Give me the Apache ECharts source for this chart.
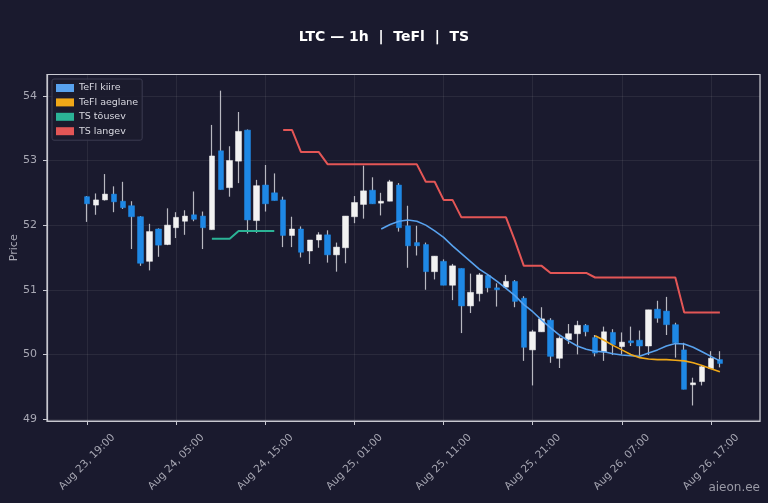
<!DOCTYPE html>
<html>
<head>
<meta charset="utf-8">
<script src="https://cdn.jsdelivr.net/npm/echarts@6/dist/echarts.min.js"></script>
<style>
  html, body { margin: 0; padding: 0; background: #1a1a2e; }
  #chart { width: 768px; height: 503px; }
</style>
</head>
<body>
<div id="chart"></div>
<script>
// hourly candles, Aug 23 19:00 -> Aug 26 18:00
const tickLabels = ['Aug 23, 19:00', 'Aug 24, 05:00', 'Aug 24, 15:00', 'Aug 25, 01:00',
    'Aug 25, 11:00', 'Aug 25, 21:00', 'Aug 26, 07:00', 'Aug 26, 17:00'];

const opens = [52.44, 52.31, 52.39, 52.48, 52.37, 52.30, 52.13, 51.44, 51.94, 51.70,
    51.96, 52.06, 52.16, 52.14, 51.93, 53.15, 52.58, 52.99, 53.47, 52.07,
    52.62, 52.50, 52.39, 51.84, 51.94, 51.60, 51.77, 51.85, 51.54, 51.65,
    52.13, 52.32, 52.54, 52.34, 52.37, 52.62, 51.99, 51.73, 51.70, 51.28,
    51.44, 51.07, 51.33, 50.75, 50.94, 51.22, 51.03, 51.04, 51.13, 50.87,
    50.07, 50.35, 50.53, 49.94, 50.23, 50.32, 50.45, 50.26, 50.04, 50.34,
    50.12, 50.21, 50.22, 50.13, 50.70, 50.67, 50.46, 50.07, 49.53, 49.58,
    49.78, 49.92];
const closes = [52.33, 52.39, 52.48, 52.36, 52.27, 52.13, 51.41, 51.90, 51.69, 52.00,
    52.12, 52.14, 52.09, 51.96, 53.07, 52.55, 53.00, 53.45, 52.08, 52.61,
    52.33, 52.38, 51.84, 51.94, 51.58, 51.77, 51.85, 51.54, 51.66, 52.14,
    52.35, 52.53, 52.33, 52.37, 52.67, 51.96, 51.68, 51.68, 51.28, 51.52,
    51.07, 51.37, 50.75, 50.96, 51.23, 51.03, 51.00, 51.13, 50.82, 50.11,
    50.35, 50.55, 49.97, 50.25, 50.32, 50.45, 50.35, 50.02, 50.35, 50.15,
    50.19, 50.18, 50.13, 50.69, 50.56, 50.46, 50.18, 49.46, 49.56, 49.81,
    49.94, 49.86];
const lows = [52.05, 52.16, 52.38, 52.20, 52.25, 51.63, 51.37, 51.30, 51.51, 51.69,
    51.80, 51.85, 52.06, 51.63, 51.93, 52.55, 52.44, 52.65, 51.87, 51.88,
    52.21, 52.38, 51.66, 51.66, 51.50, 51.40, 51.65, 51.42, 51.28, 51.41,
    52.03, 52.10, 52.33, 52.15, 52.37, 51.90, 51.34, 51.53, 51.00, 51.16,
    51.07, 50.84, 50.33, 50.64, 50.82, 50.96, 50.74, 51.04, 50.73, 49.90,
    49.52, 50.35, 49.87, 49.79, 50.16, 50.00, 50.28, 49.97, 49.90, 49.99,
    50.00, 50.13, 49.98, 49.99, 50.49, 50.30, 49.95, 49.46, 49.21, 49.52,
    49.78, 49.80];
const highs = [52.45, 52.49, 52.79, 52.60, 52.67, 52.37, 52.14, 52.02, 51.95, 52.26,
    52.20, 52.23, 52.52, 52.21, 53.55, 54.08, 53.22, 53.75, 53.48, 52.70,
    52.93, 52.80, 52.44, 52.13, 51.98, 51.77, 51.89, 51.92, 51.73, 52.14,
    52.45, 52.92, 52.74, 52.50, 52.70, 52.65, 52.30, 51.99, 51.73, 51.52,
    51.47, 51.40, 51.33, 51.25, 51.26, 51.23, 51.10, 51.23, 51.15, 50.90,
    50.38, 50.73, 50.56, 50.28, 50.47, 50.52, 50.47, 50.30, 50.43, 50.39,
    50.34, 50.43, 50.37, 50.69, 50.83, 50.89, 50.49, 50.18, 49.64, 49.83,
    50.05, 50.05];

// indicator lines, [first candle index, values...]
const tsUpStart = 14;
const tsUp = [51.79, 51.79, 51.79, 51.91, 51.91, 51.91, 51.91, 51.91];
const tsDownStart = 22;
const tsDown = [53.47, 53.47, 53.13, 53.13, 53.13, 52.94, 52.94, 52.94, 52.94, 52.94,
    52.94, 52.94, 52.94, 52.94, 52.94, 52.94, 52.67, 52.67, 52.39, 52.39,
    52.12, 52.12, 52.12, 52.12, 52.12, 52.12, 51.76, 51.37, 51.37, 51.37,
    51.26, 51.26, 51.26, 51.26, 51.26, 51.19, 51.19, 51.19, 51.19, 51.19,
    51.19, 51.19, 51.19, 51.19, 51.19, 50.65, 50.65, 50.65, 50.65, 50.65];
const fastStart = 33;
const fast = [51.94, 52.01, 52.06, 52.08, 52.06, 52.00, 51.91, 51.81, 51.68, 51.56,
    51.44, 51.32, 51.23, 51.13, 51.02, 50.91, 50.77, 50.66, 50.53, 50.41,
    50.30, 50.21, 50.13, 50.08, 50.05, 50.04, 50.01, 49.99, 49.98, 49.97,
    50.02, 50.07, 50.13, 50.17, 50.16, 50.11, 50.04, 49.97, 49.90];
const slowStart = 57;
const slow = [50.29, 50.22, 50.14, 50.07, 50.00, 49.95, 49.93, 49.92, 49.92, 49.91,
    49.90, 49.87, 49.83, 49.78, 49.73];

const toPoints = (start, vals) => vals.map((v, k) => [start + k, v]);

const wickData = opens.map((o, i) => [i, o, closes[i], lows[i], highs[i]]);
const bodyData = opens.map((o, i) => [i, o, closes[i], Math.min(o, closes[i]), Math.max(o, closes[i])]);

const axisColor = '#c8c8d0';
const textColor = '#a8a8b4';
const gridColor = 'rgba(255,255,255,0.07)';
const font = 'DejaVu Sans';

const chart = echarts.init(document.getElementById('chart'));
const option = {
    backgroundColor: '#1a1a2e',
    animation: false,
    textStyle: { fontFamily: font },
    title: {
        text: 'LTC — 1h  |  TeFl  |  TS',
        left: 'center',
        top: 25,
        textStyle: { color: '#ffffff', fontSize: 14, fontWeight: 'bold', fontFamily: font }
    },
    legend: {
        data: ['TeFl kiire', 'TeFl aeglane', 'TS tõusev', 'TS langev'],
        orient: 'vertical',
        left: 52,
        top: 79,
        padding: [4, 4, 4, 4],
        itemGap: 4.4,
        itemWidth: 18,
        itemHeight: 8,
        icon: 'rect',
        backgroundColor: 'rgba(28,28,46,0.9)',
        borderColor: '#3c3c52',
        borderWidth: 1,
        borderRadius: 2,
        textStyle: { color: '#d8d8e0', fontSize: 9.5, fontFamily: font }
    },
    grid: {
        left: 47,
        right: 8,
        top: 74.5,
        bottom: 82,
        containLabel: false,
        outerBoundsMode: 'none',
        show: true,
        borderColor: axisColor,
        borderWidth: 1.2,
        backgroundColor: '#1a1a2e'
    },
    xAxis: {
        type: 'value',
        min: -4.5,
        max: 75.5,
        splitNumber: 8,
        axisLine: { show: true, onZero: false, lineStyle: { color: axisColor, width: 1.2 } },
        axisTick: { show: true, length: 4, lineStyle: { color: axisColor } },
        splitLine: { show: true, lineStyle: { color: gridColor, width: 1 } },
        axisLabel: {
            showMinLabel: false,
            showMaxLabel: false,
            rotate: 45,
            align: 'center',
            verticalAlign: 'middle',
            margin: 41,
            color: textColor,
            fontSize: 10.5,
            fontFamily: font,
            formatter: v => tickLabels[Math.round(v / 10)] || ''
        }
    },
    yAxis: {
        type: 'value',
        min: 48.97,
        max: 54.33,
        name: 'Price',
        nameLocation: 'middle',
        nameGap: 27,
        nameMoveOverlap: false,
        nameRotate: 90,
        nameTextStyle: { color: textColor, fontSize: 11, fontFamily: font },
        axisLine: { show: true, onZero: false, lineStyle: { color: axisColor, width: 1.2 } },
        axisTick: { show: true, length: 4, lineStyle: { color: axisColor } },
        splitLine: { show: true, lineStyle: { color: gridColor, width: 1 } },
        axisLabel: {
            showMinLabel: false,
            showMaxLabel: false,
            color: textColor,
            fontSize: 11,
            margin: 10,
            fontFamily: font
        }
    },
    series: [
        {
            name: 'wick',
            type: 'candlestick',
            barWidth: 1.2,
            encode: { x: 0, y: [1, 2, 3, 4] },
            itemStyle: { color: '#b8b8c0', color0: '#b8b8c0', borderColor: '#b8b8c0', borderColor0: '#b8b8c0', borderWidth: 1.2 },
            data: wickData
        },
        {
            name: 'body',
            type: 'candlestick',
            barWidth: 6,
            encode: { x: 0, y: [1, 2, 3, 4] },
            itemStyle: { color: '#f2f2f2', color0: '#1e88e5', borderColor: '#f2f2f2', borderColor0: '#1e88e5', borderWidth: 0.5 },
            data: bodyData
        },
        {
            name: 'TeFl kiire', type: 'line', showSymbol: false, color: '#58a2ee',
            lineStyle: { width: 1.6 }, data: toPoints(fastStart, fast)
        },
        {
            name: 'TeFl aeglane', type: 'line', showSymbol: false, color: '#f0a818',
            lineStyle: { width: 1.6 }, data: toPoints(slowStart, slow)
        },
        {
            name: 'TS tõusev', type: 'line', showSymbol: false, color: '#2bb396',
            lineStyle: { width: 2 }, data: toPoints(tsUpStart, tsUp)
        },
        {
            name: 'TS langev', type: 'line', showSymbol: false, color: '#e35656',
            lineStyle: { width: 2 }, data: toPoints(tsDownStart, tsDown)
        }
    ],
    graphic: [{
        type: 'text',
        right: 8,
        bottom: 9,
        style: { text: 'aieon.ee', fill: '#9a9aa6', font: '12px "DejaVu Sans"' }
    }]
};
chart.setOption(option);
</script>
</body>
</html>
